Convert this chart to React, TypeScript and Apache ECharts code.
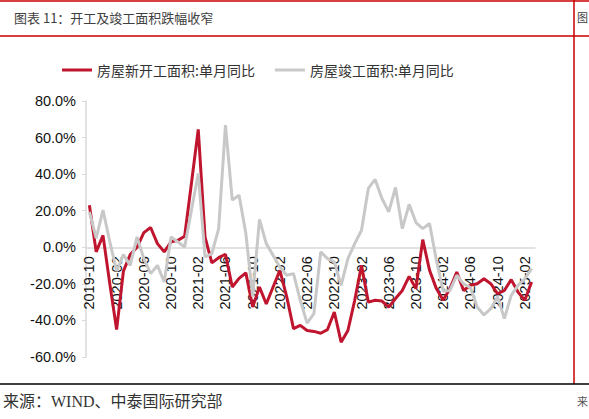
import React, { useEffect, useRef } from "react";
import * as echarts from "echarts";

const categories = [
  "2019-10", "2019-11", "2019-12",
  "2020-01", "2020-02", "2020-03", "2020-04", "2020-05", "2020-06", "2020-07", "2020-08", "2020-09", "2020-10", "2020-11", "2020-12",
  "2021-01", "2021-02", "2021-03", "2021-04", "2021-05", "2021-06", "2021-07", "2021-08", "2021-09", "2021-10", "2021-11", "2021-12",
  "2022-01", "2022-02", "2022-03", "2022-04", "2022-05", "2022-06", "2022-07", "2022-08", "2022-09", "2022-10", "2022-11", "2022-12",
  "2023-01", "2023-02", "2023-03", "2023-04", "2023-05", "2023-06", "2023-07", "2023-08", "2023-09", "2023-10", "2023-11", "2023-12",
  "2024-01", "2024-02", "2024-03", "2024-04", "2024-05", "2024-06", "2024-07", "2024-08", "2024-09", "2024-10", "2024-11", "2024-12",
  "2025-01", "2025-02", "2025-03",
];

// 房屋新开工面积:单月同比 (%)
const startsYoY = [
  23, -2.5, 6.5,
  -20, -45, -13, -4, 0, 8, 10.8, 2, -2.5, 3, 3.8, 6,
  35, 64.5, 5.5, -8.5, -5.7, -3.8, -21.7, -17, -14, -32.7, -21.7, -31,
  -21.7, -12.6, -27, -44.5, -42.7, -45.5, -46, -47, -45, -35.4, -51.9, -45.5,
  -29, -9.9, -30, -29, -29.4, -32.7, -28, -23.6, -15.9, -22.6, 4.2, -12.6,
  -22.6, -29, -22.6, -13.5, -23.6, -20.8, -19.9, -17.2, -19.9, -25.4, -23.6, -17.7,
  -24.5, -29, -19,
];

// 房屋竣工面积:单月同比 (%)
const completionsYoY = [
  19.4, 5, 20.3,
  3, -13, -4, -9.9, 5.7, -6.2, -14.4, -9.9, -19, 5.7, 2.9, 0.2,
  20.3, 40.4, -5.3, -3.5, 10.2, 66.8, 25.8, 28.5, 7.5, -27, 15.2, 2,
  -4.4, -10.8, -15.3, -14.4, -29, -41.5, -36.3, -2.5, -6.2, -8, -20.8, -6.2,
  2, 9.3, 32.2, 37.1, 26.7, 19.4, 32.7, 10.2, 23.5, 13.5, 10.2, 13,
  -7, -24, -23.6, -15.3, -20, -22, -32.7, -37, -33.6, -27, -39, -26.3,
  -20.8, -17.2, -11.7,
];

const seriesNames = ["房屋新开工面积:单月同比", "房屋竣工面积:单月同比"];
const titleText = "图表 11：开工及竣工面积跌幅收窄";
const sourceText = "来源：WIND、中泰国际研究部";

const Y_MIN = -60;
const Y_MAX = 80;
const Y_STEP = 20;

const RED = "#C0152F";
const GREY = "#C8C8C8";
const BORDER_RED = "#C80000";
const CJK = "'Noto Sans CJK SC', sans-serif";
const LATIN = "'Liberation Sans', Arial, sans-serif";

const GRID_TOP = 101;
const GRID_BOTTOM = 62;
const HEIGHT = 419;

export default function App() {
  const ref = useRef<HTMLDivElement>(null);

  useEffect(() => {
    if (!ref.current) return;
    const chart = echarts.init(ref.current, null, { renderer: "svg" });
    // place the category axis (line and labels) on the zero value line
    const plotH = HEIGHT - GRID_TOP - GRID_BOTTOM;
    const zeroFromBottom = (plotH * (0 - Y_MIN)) / (Y_MAX - Y_MIN);
    chart.setOption({
      animation: false,
      backgroundColor: "#ffffff",
      grid: { left: 86, right: 54, top: GRID_TOP, bottom: GRID_BOTTOM, containLabel: false },
      legend: {
        left: 57,
        top: 58,
        itemWidth: 30,
        itemHeight: 3,
        itemGap: 20,
        icon: "rect",
        textStyle: { fontFamily: CJK, fontSize: 14, color: "#333333" },
        data: seriesNames,
      },
      xAxis: {
        type: "category",
        data: categories,
        boundaryGap: true,
        offset: -zeroFromBottom,
        axisLine: { onZero: false, lineStyle: { color: "#d9d9d9", width: 1.5 } },
        axisTick: { show: false },
        axisLabel: {
          rotate: 90,
          interval: 3,
          margin: 9,
          fontFamily: LATIN,
          fontSize: 14.5,
          color: "#111111",
        },
        splitLine: { show: false },
      },
      yAxis: {
        type: "value",
        min: Y_MIN,
        max: Y_MAX,
        interval: Y_STEP,
        axisLine: { show: true, lineStyle: { color: "#d9d9d9", width: 1.5 } },
        axisTick: { show: true, length: 4, lineStyle: { color: "#d9d9d9" } },
        axisLabel: {
          margin: 10,
          fontFamily: LATIN,
          fontSize: 14.5,
          color: "#111111",
          formatter: (v: number) => v.toFixed(1) + "%",
        },
        splitLine: { show: false },
      },
      series: [
        {
          name: seriesNames[0],
          type: "line",
          data: startsYoY,
          symbol: "none",
          itemStyle: { color: RED },
          lineStyle: { color: RED, width: 3 },
        },
        {
          name: seriesNames[1],
          type: "line",
          data: completionsYoY,
          symbol: "none",
          itemStyle: { color: GREY },
          lineStyle: { color: GREY, width: 3 },
        },
      ],
      graphic: [
        { type: "line", shape: { x1: 0, y1: 1, x2: 589, y2: 1 }, style: { stroke: BORDER_RED, lineWidth: 1.5 } },
        { type: "line", shape: { x1: 0, y1: 36, x2: 589, y2: 36 }, style: { stroke: BORDER_RED, lineWidth: 1.5 } },
        { type: "line", shape: { x1: 574, y1: 0, x2: 574, y2: 384 }, style: { stroke: BORDER_RED, lineWidth: 1.5 } },
        { type: "line", shape: { x1: 0, y1: 384, x2: 589, y2: 384 }, style: { stroke: "#000000", lineWidth: 1.5 } },
        {
          type: "text",
          x: 14,
          y: 17,
          style: { text: titleText, fontFamily: CJK, fontSize: 13, fill: "#404040", verticalAlign: "middle", align: "left" },
        },
        {
          type: "text",
          x: 577,
          y: 17,
          style: { text: "图", fontFamily: CJK, fontSize: 11, fill: "#404040", verticalAlign: "middle", align: "left" },
        },
        {
          type: "text",
          x: 3,
          y: 401,
          style: { text: sourceText, fontFamily: "'Liberation Serif', " + CJK, fontSize: 16, fill: "#333333", verticalAlign: "middle", align: "left" },
        },
        {
          type: "text",
          x: 577,
          y: 401,
          style: { text: "来", fontFamily: CJK, fontSize: 11, fill: "#555555", verticalAlign: "middle", align: "left" },
        },
      ],
    });
    return () => chart.dispose();
  }, []);

  return (
    <div
      ref={ref}
      style={{ position: "fixed", left: 0, top: 0, width: 589, height: 419, background: "#ffffff" }}
    />
  );
}
